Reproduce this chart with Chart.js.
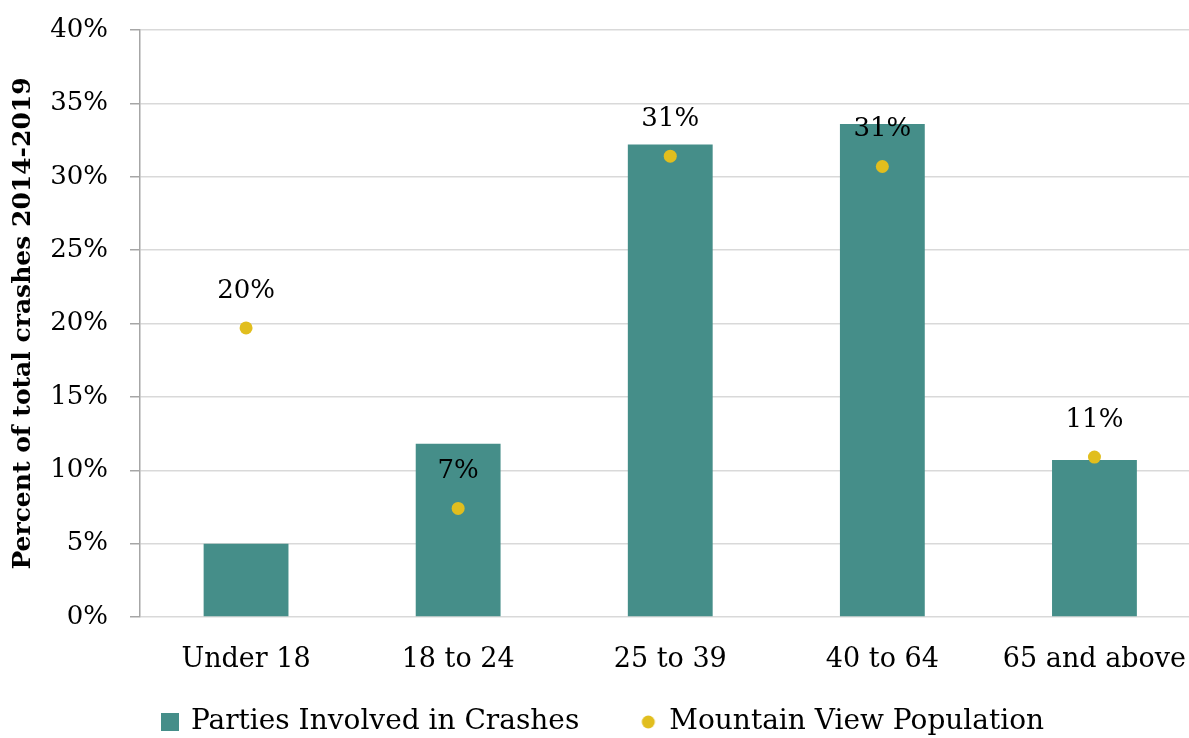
<!DOCTYPE html>
<html>
<head>
<meta charset="utf-8">
<script src="https://cdn.jsdelivr.net/npm/chart.js@4.4.1/dist/chart.umd.min.js"></script>
<style>
  html, body { margin: 0; padding: 0; background: #fff; overflow: hidden; }
</style>
</head>
<body>
<canvas id="c" width="1207" height="738"></canvas>
<script>
const categories = ["Under 18", "18 to 24", "25 to 39", "40 to 64", "65 and above"];
const crashParties = [5.0, 11.8, 32.2, 33.6, 10.7];
const populationShare = [19.7, 7.4, 31.4, 30.7, 10.9];
const yTicks = [0, 5, 10, 15, 20, 25, 30, 35, 40];

const TEAL = "#458e89";
const GOLD = "#e1be1e";
const FONT = "'DejaVu Serif', serif";
const PLOT_BOTTOM = 617;
const BOTTOM_PAD = -8;

// legend markers as small canvases (square for bars, dot for population)
function marker(kind) {
  const cv = document.createElement("canvas");
  cv.width = 18; cv.height = 18;
  const g = cv.getContext("2d");
  if (kind === "rect") {
    g.fillStyle = TEAL; g.fillRect(0, 0, 18, 18);
  } else {
    g.fillStyle = GOLD; g.beginPath(); g.arc(9, 9, 6.5, 0, Math.PI * 2); g.fill();
  }
  return cv;
}

// value labels above the population dots
const pointLabels = {
  id: "pointLabels",
  afterDatasetsDraw(chart) {
    const meta = chart.getDatasetMeta(1);
    const ctx = chart.ctx;
    ctx.save();
    ctx.font = "26px " + FONT;
    ctx.fillStyle = "#000";
    ctx.textAlign = "center";
    ctx.textBaseline = "middle";
    meta.data.forEach((pt, i) => {
      ctx.fillText(Math.round(populationShare[i]) + "%", pt.x, pt.y - 37);
    });
    ctx.restore();
  }
};

new Chart(document.getElementById("c"), {
  type: "bar",
  data: {
    labels: categories,
    datasets: [
      { type: "bar", label: "Parties Involved in Crashes", data: crashParties, backgroundColor: TEAL,
        barPercentage: 0.8, categoryPercentage: 0.5, order: 2 },
      { type: "line", label: "Mountain View Population", data: populationShare, showLine: false,
        pointRadius: 6.5, pointHoverRadius: 6.5, pointBackgroundColor: GOLD, pointBorderWidth: 0, order: 1 }
    ]
  },
  plugins: [pointLabels],
  options: {
    responsive: false,
    animation: false,
    layout: { padding: { top: 30, right: 0, bottom: BOTTOM_PAD, left: 0 } },
    plugins: {
      tooltip: { enabled: false },
      legend: {
        position: "bottom",
        labels: {
          font: { family: FONT, size: 28 },
          color: "#000",
          usePointStyle: true,
          boxWidth: 14,
          boxHeight: 18,
          padding: 62,
          generateLabels: () => [
            { text: "Parties Involved in Crashes", pointStyle: marker("rect"), fillStyle: TEAL, lineWidth: 0, datasetIndex: 0 },
            { text: "Mountain View Population", pointStyle: marker("dot"), fillStyle: GOLD, lineWidth: 0, datasetIndex: 1 }
          ]
        }
      }
    },
    scales: {
      x: {
        grid: { display: false, drawTicks: false },
        border: { display: false },
        // mirrored so the labels are not clipped to the (thin) axis box
        ticks: { font: { family: FONT, size: 27 }, color: "#000", mirror: true, padding: -59, autoSkip: false, maxRotation: 0 },
        afterFit(scale) {
          scale.height = Math.max(0, 738 - BOTTOM_PAD - PLOT_BOTTOM - scale.chart.legend.height);
          scale.paddingLeft = 0; scale.paddingRight = 0;
        }
      },
      y: {
        min: 0, max: 40,
        afterBuildTicks(scale) { scale.ticks = yTicks.map(v => ({ value: v })); },
        grid: { color: "#d9d9d9", lineWidth: 1.5, tickColor: "#a6a6a6", tickLength: 10 },
        border: { display: true, color: "#a6a6a6", width: 1.5 },
        ticks: { font: { family: FONT, size: 26 }, color: "#000", padding: 22, callback: v => v + "%" },
        title: { display: true, text: "Percent of total crashes 2014-2019", color: "#000",
                 font: { family: FONT, size: 25, weight: "bold" }, padding: { top: 8, bottom: 0 } },
        afterFit(scale) { scale.width = 140; scale.paddingTop = 0; scale.paddingBottom = 0; }
      }
    }
  }
});
</script>
</body>
</html>
